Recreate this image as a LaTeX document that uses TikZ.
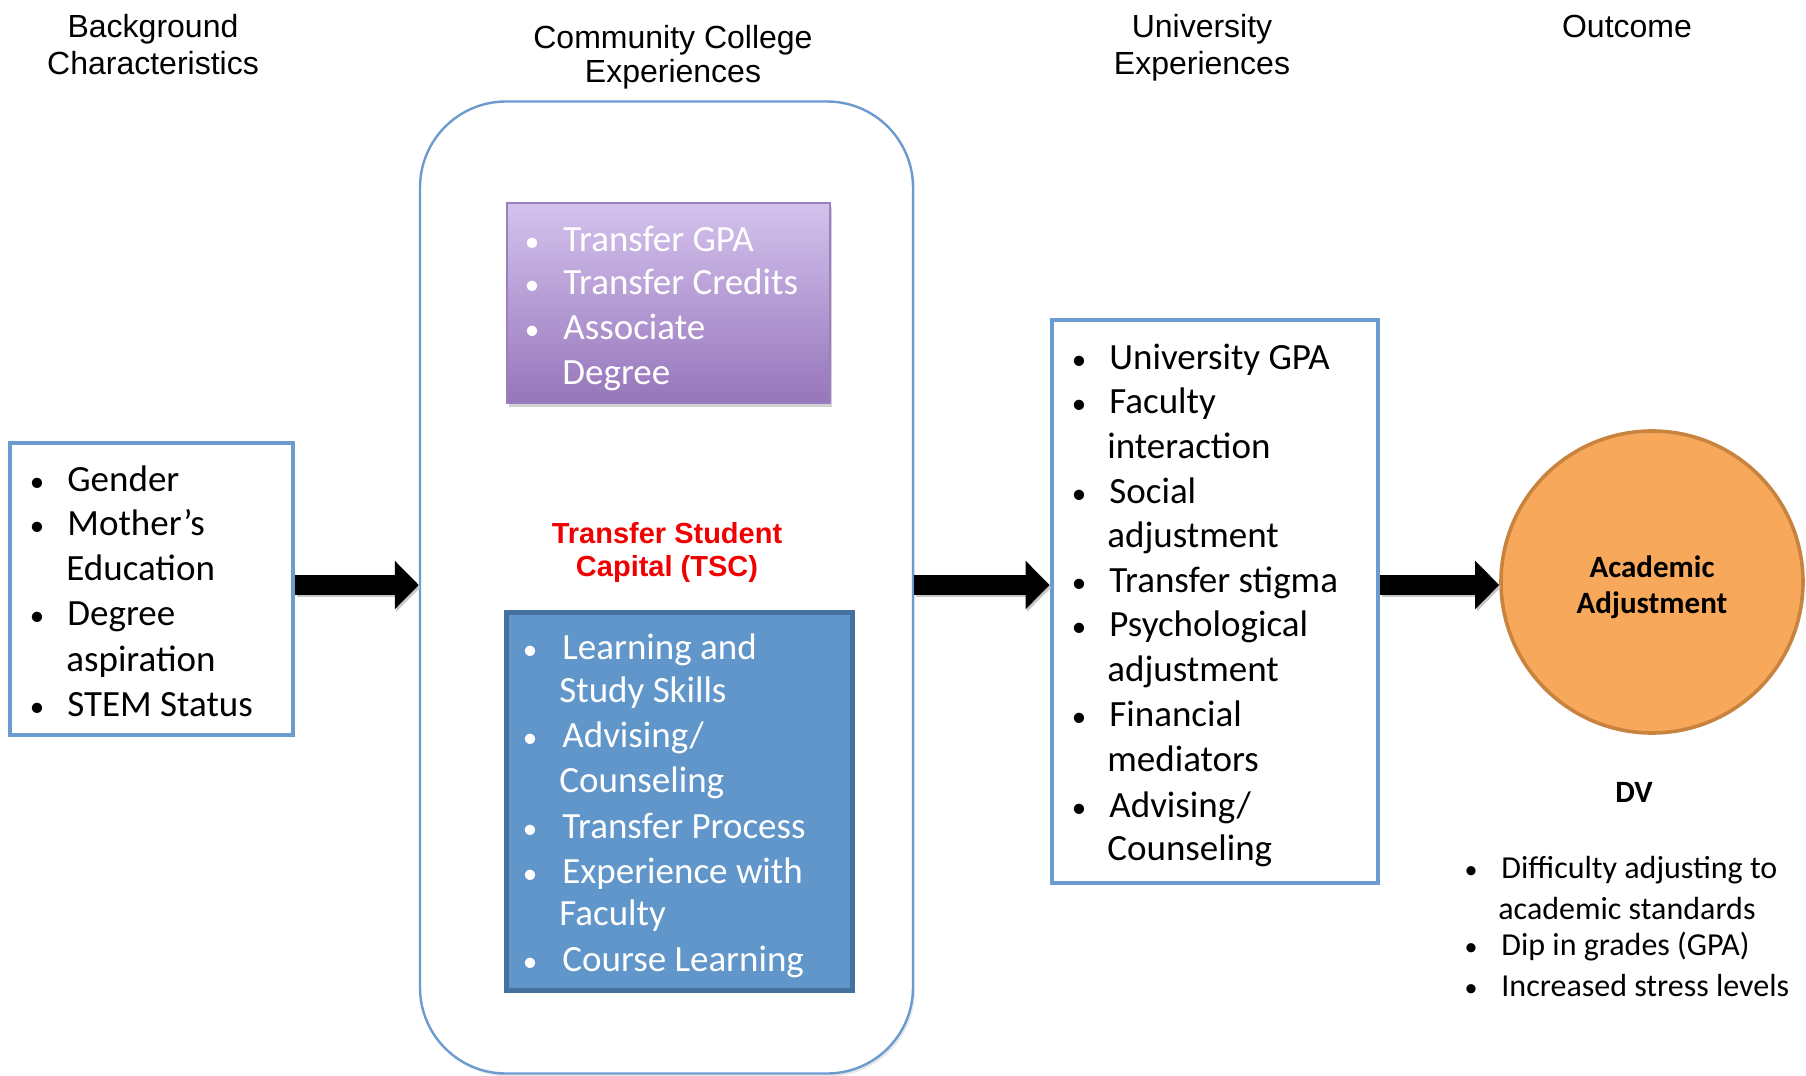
\documentclass[tikz,border=0pt]{standalone}
\usepackage{fontspec}
\setmainfont{Carlito}
\newfontfamily\arialfont{Liberation Sans}
\usetikzlibrary{arrows.meta,shadows}
\definecolor{boxblue}{HTML}{6C9BD0}
\definecolor{tscfill}{HTML}{6196CA}
\definecolor{tscdraw}{HTML}{45719E}
\definecolor{purtop}{HTML}{D4C2EE}
\definecolor{purbot}{HTML}{9676BA}
\definecolor{purdraw}{HTML}{9A80BF}
\definecolor{orfill}{HTML}{F8A85A}
\definecolor{ordraw}{HTML}{C8843F}
\definecolor{tscred}{HTML}{F00000}
\begin{document}
\begin{tikzpicture}[x=0.5pt,y=-0.5pt,
  hdr/.style={font=\arialfont\fontsize{16}{19}\selectfont, inner sep=0, anchor=base},
  body/.style={font=\fontsize{18.5}{22}\selectfont, inner sep=0, anchor=base west},
  blt/.style={font=\fontsize{14.5}{22}\selectfont, inner sep=0, anchor=base},
  wbody/.style={body, text=white},
  wblt/.style={blt, text=white},
  small/.style={font=\fontsize{16}{19}\selectfont, inner sep=0, anchor=base west},
  sblt/.style={font=\fontsize{13}{19}\selectfont, inner sep=0, anchor=base},
  boldc/.style={font=\bfseries\fontsize{15.5}{18}\selectfont, inner sep=0, anchor=base},
  redt/.style={font=\arialfont\bfseries\fontsize{14.5}{17}\selectfont, text=tscred, inner sep=0, anchor=base},
  listbox/.style={draw=boxblue, line width=2.4pt, fill=white, inner sep=0},
  bigarrow/.style={line width=10pt, -{Triangle[length=12pt,width=23.5pt]},
     preaction={draw=black!22, line width=10pt, transform canvas={xshift=0.8pt,yshift=-1.2pt}}},
]
\useasboundingbox (0,0) rectangle (1806,1076);
\fill[white] (0,0) rectangle (1806,1076);

% headers
\node[hdr] (h1a) at (153,37) {Background};
\node[hdr] (h1b) at (153,74) {Characteristics};
\node[hdr] (h2a) at (673,48) {Community College};
\node[hdr] (h2b) at (673,83) {Experiences};
\node[hdr] (h3a) at (1202,37) {University};
\node[hdr] (h3b) at (1202,74) {Experiences};
\node[hdr] (h4) at (1627,37) {Outcome};

% container
\node[draw=boxblue, line width=1.2pt, fill=white, rounded corners=43pt,
      minimum width=246.5pt, minimum height=486pt, inner sep=0,
      drop shadow={opacity=0.18, shadow xshift=1pt, shadow yshift=-1.5pt}] (cc) at (666.5,587.5) {};

% purple box
\node[draw=purdraw, line width=0.8pt, top color=purtop, bottom color=purbot, inner sep=0,
      minimum width=161.5pt, minimum height=100pt,
      drop shadow={opacity=0.35, shadow xshift=1pt, shadow yshift=-2pt}] (pb) at (668.5,303) {};
\node[wblt] (pb1) at (532,251) {•};
\node[wbody] (pt1) at (563,251) {Transfer GPA};
\node[wblt] (pb2) at (532,294) {•};
\node[wbody] (pt2) at (563,294) {Transfer Credits};
\node[wblt] (pb3) at (532,339) {•};
\node[wbody] (pt3) at (563,339) {Associate};
\node[wbody] (pt4) at (562,384) {Degree};

% TSC title
\node[redt] (tsc1) at (667,543) {Transfer Student};
\node[redt] (tsc2) at (667,576) {Capital (TSC)};

% blue box
\node[draw=tscdraw, line width=2.5pt, fill=tscfill, inner sep=0,
      minimum width=173pt, minimum height=189pt] (tb) at (679.5,801.5) {};
\node[wblt] (tb1) at (530,659) {•};
\node[wbody] (tt1) at (562,659) {Learning and};
\node[wbody] (tt2) at (559,702) {Study Skills};
\node[wblt] (tb3) at (530,747) {•};
\node[wbody] (tt3) at (562,747) {Advising/};
\node[wbody] (tt4) at (559,792) {Counseling};
\node[wblt] (tb5) at (530,838) {•};
\node[wbody] (tt5) at (562,838) {Transfer Process};
\node[wblt] (tb6) at (530,883) {•};
\node[wbody] (tt6) at (562,883) {Experience with};
\node[wbody] (tt7) at (559,925) {Faculty};
\node[wblt] (tb8) at (530,971) {•};
\node[wbody] (tt8) at (562,971) {Course Learning};

% left box
\node[listbox, minimum width=141.5pt, minimum height=146pt] (bg) at (151.5,589) {};
\node[blt] (gb1) at (37,491) {•};
\node[body] (gt1) at (67,491) {Gender};
\node[blt] (gb2) at (37,535) {•};
\node[body] (gt2) at (67,535) {Mother’s};
\node[body] (gt3) at (66,580) {Education};
\node[blt] (gb4) at (37,625) {•};
\node[body] (gt4) at (67,625) {Degree};
\node[body] (gt5) at (66,671) {aspiration};
\node[blt] (gb6) at (37,716) {•};
\node[body] (gt6) at (67,716) {STEM Status};

% university box
\node[listbox, minimum width=163pt, minimum height=281.5pt] (uni) at (1215,601.5) {};
\node[blt] (ub1) at (1079,369) {•};
\node[body] (ut1) at (1109,369) {University GPA};
\node[blt] (ub2) at (1079,413) {•};
\node[body] (ut2) at (1109,413) {Faculty};
\node[body] (ut3) at (1107,458) {interaction};
\node[blt] (ub4) at (1079,503) {•};
\node[body] (ut4) at (1109,503) {Social};
\node[body] (ut5) at (1107,547) {adjustment};
\node[blt] (ub6) at (1079,592) {•};
\node[body] (ut6) at (1109,592) {Transfer stigma};
\node[blt] (ub7) at (1079,636) {•};
\node[body] (ut7) at (1109,636) {Psychological};
\node[body] (ut8) at (1107,681) {adjustment};
\node[blt] (ub9) at (1079,726) {•};
\node[body] (ut9) at (1109,726) {Financial};
\node[body] (ut10) at (1107,771) {mediators};
\node[blt] (ub11) at (1079,817) {•};
\node[body] (ut11) at (1109,817) {Advising/};
\node[body] (ut12) at (1107,860) {Counseling};

% outcome circle
\node[circle, draw=ordraw, line width=1.8pt, fill=orfill, minimum size=151pt, inner sep=0] (aa) at (1652,582) {};
\node[boldc] (aat1) at (1652,577) {Academic};
\node[boldc] (aat2) at (1652,613) {Adjustment};
\node[boldc] (dv) at (1634,802) {DV};
\node[sblt] (db1) at (1471,878) {•};
\node[small] (dt1) at (1501,878) {Difficulty adjusting to};
\node[small] (dt2) at (1498,919) {academic standards};
\node[sblt] (db3) at (1471,955) {•};
\node[small] (dt3) at (1501,955) {Dip in grades (GPA)};
\node[sblt] (db4) at (1471,996) {•};
\node[small] (dt4) at (1501,996) {Increased stress levels};

% arrows
\draw[bigarrow] ([yshift=2pt]bg.east) -- ([yshift=2pt]bg.east -| cc.west);
\draw[bigarrow] ([yshift=1.25pt]cc.east) -- ([yshift=1.25pt]cc.east -| uni.west);
\draw[bigarrow] ([yshift=-1.5pt]aa.west -| uni.east) -- ([yshift=-1.5pt]aa.west);
\end{tikzpicture}
\end{document}
